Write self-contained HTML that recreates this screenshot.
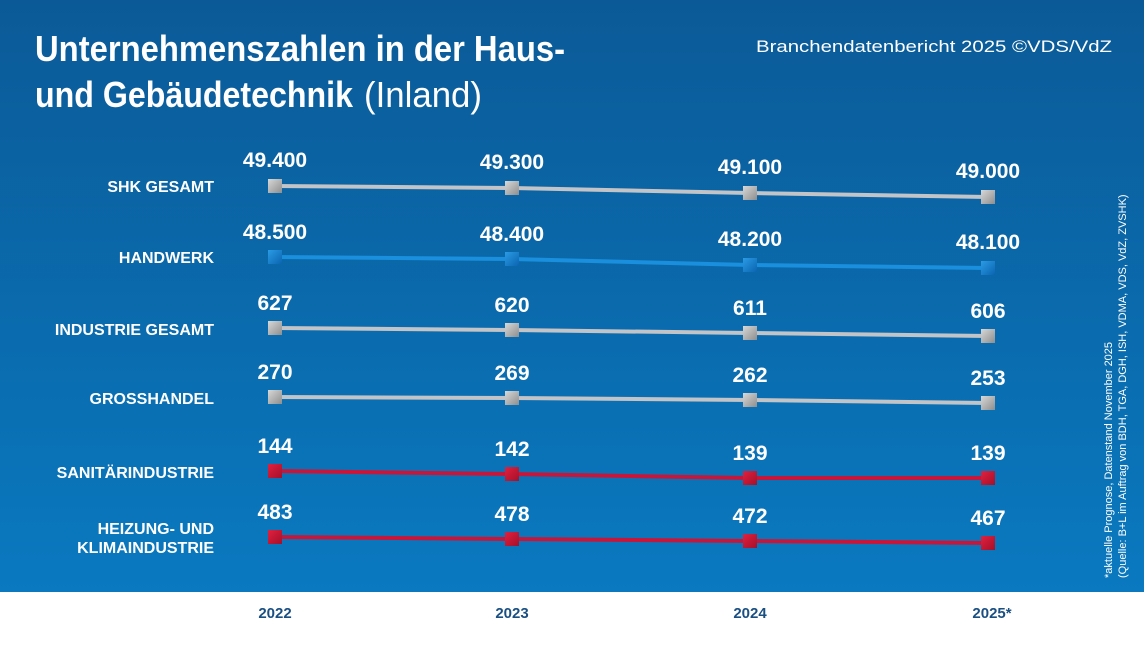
<!DOCTYPE html>
<html><head><meta charset="utf-8"><style>
body{margin:0;width:1144px;height:643px;overflow:hidden;background:#fff;font-family:"Liberation Sans",sans-serif}
</style></head><body>
<svg width="1144" height="643" xmlns="http://www.w3.org/2000/svg" font-family="Liberation Sans, sans-serif">
<defs>
<linearGradient id="bg" x1="0" y1="0" x2="0" y2="1"><stop offset="0" stop-color="#0b5a97"/><stop offset="1" stop-color="#0a79c0"/></linearGradient>
<linearGradient id="gm" x1="0" y1="0" x2="1" y2="1"><stop offset="0" stop-color="#d8d8d8"/><stop offset="1" stop-color="#8e8e8e"/></linearGradient>
<linearGradient id="bm" x1="0" y1="0" x2="1" y2="1"><stop offset="0" stop-color="#2b9be6"/><stop offset="1" stop-color="#0a64b0"/></linearGradient>
<linearGradient id="rm" x1="0" y1="0" x2="1" y2="1"><stop offset="0" stop-color="#e0203f"/><stop offset="1" stop-color="#a5102a"/></linearGradient>
</defs>
<rect width="1144" height="592" fill="url(#bg)"/>
<g fill="#fff" font-family="Liberation Sans Narrow, Liberation Sans, sans-serif" font-weight="bold" font-size="36">
<text x="35" y="61" textLength="530" lengthAdjust="spacingAndGlyphs">Unternehmenszahlen in der Haus-</text>
<text x="35" y="107" textLength="318" lengthAdjust="spacingAndGlyphs">und Gebäudetechnik</text>
<text x="364" y="107" font-weight="normal" textLength="118" lengthAdjust="spacingAndGlyphs">(Inland)</text>
</g>
<text x="1112" y="52" fill="#fff" font-size="17" text-anchor="end" textLength="356" lengthAdjust="spacingAndGlyphs">Branchendatenbericht 2025 ©VDS/VdZ</text>
<g fill="#fff" font-size="11" transform="translate(1112,578) rotate(-90)">
<text x="0" y="0">*aktuelle Prognose, Datenstand November 2025</text>
<text x="0" y="14">(Quelle: B+L im Auftrag von BDH, TGA, DGH, ISH, VDMA, VDS, VdZ, ZVSHK)</text>
</g>
<g fill="#fff" font-weight="bold" font-size="16" text-anchor="end">
<text x="214" y="192">SHK GESAMT</text>
<text x="214" y="263">HANDWERK</text>
<text x="214" y="335">INDUSTRIE GESAMT</text>
<text x="214" y="404">GROSSHANDEL</text>
<text x="214" y="478">SANITÄRINDUSTRIE</text>
<text x="214" y="534">HEIZUNG- UND</text>
<text x="214" y="553">KLIMAINDUSTRIE</text>
</g>
<g stroke-width="4" fill="none">
<polyline points="275,186 512,188 750,193 988,197" stroke="#c2c4c8"/>
<polyline points="275,257 512,259 750,265 988,268" stroke="#1a8fdd"/>
<polyline points="275,328 512,330 750,333 988,336" stroke="#c2c4c8"/>
<polyline points="275,397 512,398 750,400 988,403" stroke="#c2c4c8"/>
<polyline points="275,471 512,474 750,478 988,478" stroke="#c8163a"/>
<polyline points="275,537 512,539 750,541 988,543" stroke="#c8163a"/>
</g>
<g>
<g fill="url(#gm)"><rect x="268" y="179" width="14" height="14"/><rect x="505" y="181" width="14" height="14"/><rect x="743" y="186" width="14" height="14"/><rect x="981" y="190" width="14" height="14"/>
<rect x="268" y="321" width="14" height="14"/><rect x="505" y="323" width="14" height="14"/><rect x="743" y="326" width="14" height="14"/><rect x="981" y="329" width="14" height="14"/>
<rect x="268" y="390" width="14" height="14"/><rect x="505" y="391" width="14" height="14"/><rect x="743" y="393" width="14" height="14"/><rect x="981" y="396" width="14" height="14"/></g>
<g fill="url(#bm)"><rect x="268" y="250" width="14" height="14"/><rect x="505" y="252" width="14" height="14"/><rect x="743" y="258" width="14" height="14"/><rect x="981" y="261" width="14" height="14"/></g>
<g fill="url(#rm)"><rect x="268" y="464" width="14" height="14"/><rect x="505" y="467" width="14" height="14"/><rect x="743" y="471" width="14" height="14"/><rect x="981" y="471" width="14" height="14"/>
<rect x="268" y="530" width="14" height="14"/><rect x="505" y="532" width="14" height="14"/><rect x="743" y="534" width="14" height="14"/><rect x="981" y="536" width="14" height="14"/></g>
</g>
<g fill="#fff" font-weight="bold" font-size="21" text-anchor="middle">
<text x="275" y="167">49.400</text><text x="512" y="169">49.300</text><text x="750" y="174">49.100</text><text x="988" y="178">49.000</text>
<text x="275" y="239">48.500</text><text x="512" y="241">48.400</text><text x="750" y="246">48.200</text><text x="988" y="249">48.100</text>
<text x="275" y="310">627</text><text x="512" y="312">620</text><text x="750" y="315">611</text><text x="988" y="318">606</text>
<text x="275" y="379">270</text><text x="512" y="380">269</text><text x="750" y="382">262</text><text x="988" y="385">253</text>
<text x="275" y="453">144</text><text x="512" y="456">142</text><text x="750" y="460">139</text><text x="988" y="460">139</text>
<text x="275" y="519">483</text><text x="512" y="521">478</text><text x="750" y="523">472</text><text x="988" y="525">467</text>
</g>
<g fill="#1a4f82" font-weight="bold" font-size="15" text-anchor="middle">
<text x="275" y="618">2022</text><text x="512" y="618">2023</text><text x="750" y="618">2024</text><text x="992" y="618">2025*</text>
</g>
</svg>
</body></html>
